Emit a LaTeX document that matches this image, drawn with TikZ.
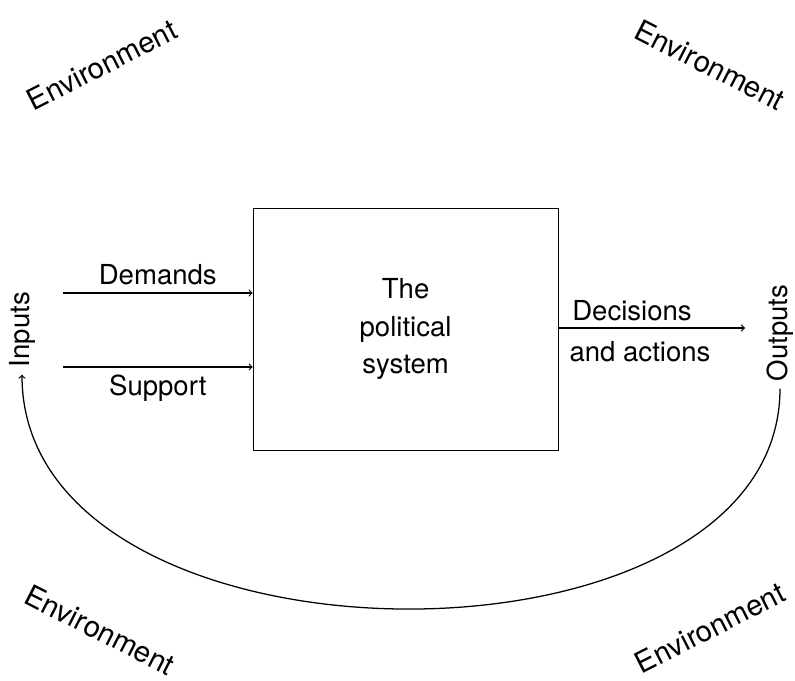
\documentclass[tikz,border=0pt]{standalone}
\usepackage{fontspec}
\setmainfont{TeX Gyre Heros}
\begin{document}
\begin{tikzpicture}[>=to, font=\fontsize{19.6}{26.5}\selectfont]
\tikzstyle{myenv} = [inner sep=0pt, font=\fontsize{20.8}{26.5}\selectfont]
\tikzstyle{myside} = [rotate=90, inner sep=5pt]
\tikzstyle{myline} = [line width=0.9pt]
\useasboundingbox (0,0) rectangle (19.875,17.025);
% the system
\node[draw, line width=0.7pt, minimum width=7.625cm, minimum height=6.05cm, align=center] (sys) at (10.14,8.8) {The\\political\\system};
% inputs and outputs
\node[myside] (inputs) at (0.55,8.78) {Inputs};
\node[myside] (outputs) at (19.5,8.7) {Outputs};
\coordinate (dem) at (1.575,9.7);
\coordinate (sup) at (1.575,7.85);
\coordinate (dec) at (18.625,8.825);
\draw[myline,->] (dem) -- (sys.west |- dem) node[midway, above, yshift=2pt] {Demands};
\draw[myline,->] (sup) -- (sys.west |- sup) node[midway, below, yshift=-2pt] {Support};
\draw[myline,->] (sys.east |- dec) -- (dec);
\node (decis) at (15.8,9.25) {Decisions};
\node (acts) at (16.0,8.225) {and actions};
% feedback loop
\draw[myline,->] (outputs.west) .. controls +(0,-7.45) and +(0,-7.7) .. (inputs.west);
% the environment
\node[myenv, rotate=27] (envtl) at (2.55,15.4) {Environment};
\node[myenv, rotate=-27] (envtr) at (17.75,15.4) {Environment};
\node[myenv, rotate=-27] (envbl) at (2.5,1.275) {Environment};
\node[myenv, rotate=27] (envbr) at (17.75,1.325) {Environment};
\end{tikzpicture}
\end{document}
